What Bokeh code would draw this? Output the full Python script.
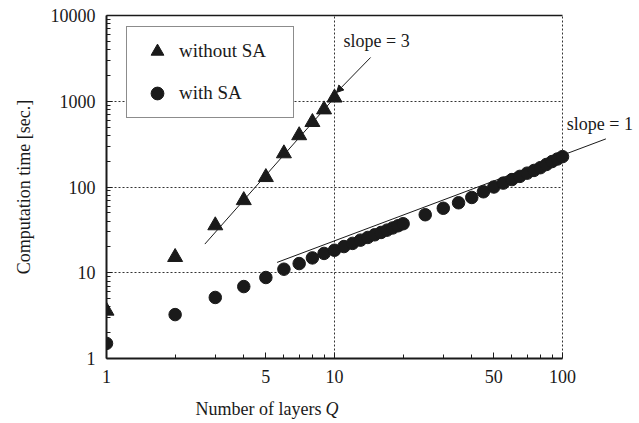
from bokeh.plotting import figure
from bokeh.models import (FixedTicker, NumeralTickFormatter, Legend, LegendItem,
                          Label, Arrow, NormalHead, LogAxis)
from bokeh.embed import file_html
from bokeh.resources import INLINE

# ---- data ----
q_without = [1, 2, 3, 4, 5, 6, 7, 8, 9, 10]
t_without = [3.6, 15.2, 35.6, 70, 130, 246, 400, 570, 800, 1100]

q_with = [1, 2, 3, 4, 5, 6, 7, 8, 9, 10, 11, 12, 13, 14, 15, 16, 17, 18, 19, 20,
          25, 30, 35, 40, 45, 50, 55, 60, 65, 70, 75, 80, 85, 90, 95, 100]
t_with = [1.5, 3.25, 5.15, 6.9, 8.8, 11.0, 12.8, 14.9, 16.8, 18.3, 20.2, 22.0, 24.0,
          25.8, 27.7, 29.5, 31.4, 33.3, 35.3, 37.3, 47.5, 56.5, 65.5, 75.5, 88, 100,
          111, 122, 133, 145, 156, 168, 183, 198, 212, 226]

slope3_x = [2.7, 10.3]
slope3_y = [21.6, 1200]
slope1_x = [5.6, 155]
slope1_y = [13.2, 364]

x_major = [1, 5, 10, 50, 100]
x_minor = [2, 3, 4, 6, 7, 8, 9, 20, 30, 40, 60, 70, 80, 90]
y_major = [1, 10, 100, 1000, 10000]
y_minor = [m * d for d in (1, 10, 100, 1000) for m in range(2, 10)]

FONT = "Liberation Serif"
INK = "#1a1a1a"

# frame geometry: axes span Q = 1..100 over 456 px; the frame continues to the
# right canvas edge so the slope = 1 guide and its label can run past Q = 100
FL, FT, FW, FH = 106, 15, 533, 343
X0, XAX, Y0, Y1 = 1, 100, 1, 10000
X1 = 10 ** (FW / 228.0)

p = figure(x_axis_type="log", y_axis_type="log", x_range=(X0, X1), y_range=(Y0, Y1),
           frame_width=FW, frame_height=FH, output_backend="svg",
           toolbar_location=None, min_border_left=FL, min_border_right=0,
           min_border_top=FT, min_border_bottom=423 - FT - FH)
p.background_fill_color = "white"
p.border_fill_color = "white"
p.outline_line_color = None

# axes
p.xaxis.ticker = FixedTicker(ticks=x_major, minor_ticks=x_minor)
p.yaxis.ticker = FixedTicker(ticks=y_major, minor_ticks=y_minor)
p.xaxis.bounds = (X0, XAX)
for ax in (p.xaxis, p.yaxis):
    ax.formatter = NumeralTickFormatter(format="0")
    ax.axis_line_width = 2
    ax.axis_line_color = INK
    ax.major_tick_in = 6
    ax.major_tick_out = 0
    ax.minor_tick_in = 4
    ax.minor_tick_out = 0
    ax.major_tick_line_color = INK
    ax.minor_tick_line_color = INK
    ax.major_label_text_font = FONT
    ax.major_label_text_font_size = "18px"
    ax.major_label_text_color = INK
    ax.major_label_standoff = 11
p.yaxis.axis_label = "Computation time [sec.]"
p.yaxis.axis_label_text_font = FONT
p.yaxis.axis_label_text_font_size = "18px"
p.yaxis.axis_label_text_font_style = "normal"
p.yaxis.axis_label_text_color = INK
p.yaxis.axis_label_standoff = 14

# top frame line
top_ax = LogAxis(ticker=FixedTicker(ticks=[], minor_ticks=[]), bounds=(X0, XAX),
                 axis_line_color=INK, axis_line_width=1.5, major_tick_line_color=None,
                 minor_tick_line_color=None, major_label_text_font_size="0px")
p.add_layout(top_ax, "above")

# grid (dotted), right edge at Q = 100 is a dotted grid line
p.xgrid.ticker = FixedTicker(ticks=[10, 100])
p.ygrid.ticker = FixedTicker(ticks=[10, 100, 1000])
p.ygrid.cross_bounds = (X0, XAX)
for g in (p.xgrid, p.ygrid):
    g.grid_line_color = "#333333"
    g.grid_line_dash = "2 2"
    g.grid_line_width = 1

# slope guides
p.line(slope3_x, slope3_y, line_color=INK, line_width=1)
p.line(slope1_x, slope1_y, line_color=INK, line_width=1)
p.add_layout(Arrow(end=NormalHead(size=7, fill_color=INK, line_color=INK),
                   x_start=14.4, y_start=3240, x_end=10.2, y_end=1265,
                   line_color=INK, line_width=1))

# data
r_tri = p.scatter(q_without, t_without, marker="triangle", size=15,
                  fill_color=INK, line_color=INK)
r_cir = p.scatter(q_with, t_with, marker="circle", size=12.5,
                  fill_color=INK, line_color=INK)

# labels
for txt, x, y in (("slope = 3", 10.95, 4980), ("slope = 1", 104.5, 540)):
    p.add_layout(Label(x=x, y=y, text=txt, text_font=FONT, text_font_size="18px",
                       text_color=INK, text_baseline="middle", text_align="left"))

p.add_layout(Label(x=321, y=408, x_units="canvas", y_units="canvas",
                   text="Number of layers", text_font=FONT,
                   text_font_size="18px", text_color=INK, text_baseline="middle",
                   text_align="right"), "below")
p.add_layout(Label(x=325, y=408, x_units="canvas", y_units="canvas", text="Q",
                   text_font=FONT, text_font_size="18px",
                   text_font_style="italic", text_color=INK, text_baseline="middle",
                   text_align="left"), "below")

legend = Legend(items=[LegendItem(label="without SA", renderers=[r_tri]),
                       LegendItem(label="with SA", renderers=[r_cir])],
                location=(20, 240), padding=8, glyph_width=44, glyph_height=32,
                label_height=32, spacing=10, label_standoff=0, label_width=106,
                border_line_color=INK, border_line_width=1,
                label_text_font=FONT, label_text_font_size="19px",
                label_text_color=INK, background_fill_alpha=1)
p.add_layout(legend)

open("out.html", "w").write(file_html(p, INLINE))
